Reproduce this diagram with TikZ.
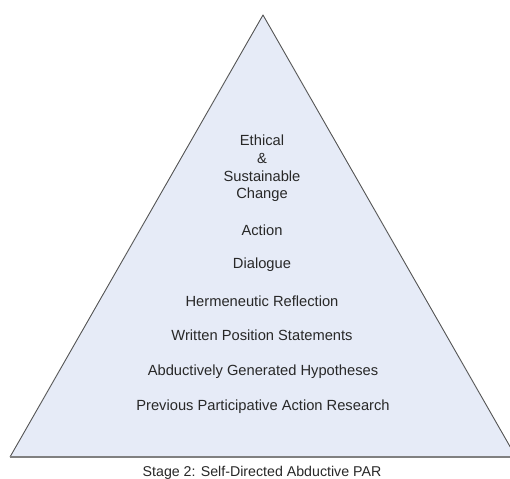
\documentclass[tikz,border=0pt]{standalone}
\usepackage{fontspec}
\setmainfont{Liberation Sans}
\definecolor{pyrfill}{RGB}{230,235,247}
\definecolor{pyredge}{RGB}{85,85,85}
\definecolor{pyrbase}{RGB}{128,128,128}
\definecolor{labelgray}{RGB}{40,40,40}
\begin{document}
\begin{tikzpicture}[x=1pt,y=-1pt,
  level/.style={anchor=base,inner sep=0pt,text=labelgray,
    font=\fontsize{14.7}{17.7}\selectfont},
  caption/.style={anchor=base,inner sep=0pt,text=labelgray,
    font=\fontsize{14.2}{17}\selectfont}]
  \useasboundingbox (0,0) rectangle (510,478);
  \clip (0,0) rectangle (510,478);
  \fill[white] (0,0) rectangle (510,478);
  % pyramid body
  \coordinate (apex) at (263,15);
  \coordinate (bl) at (10,457);
  \coordinate (br) at (516,457);
  \fill[pyrfill] (apex) -- (bl) -- (br) -- cycle;
  \draw[pyredge,line width=0.9pt,line join=round] (bl) -- (apex) -- (br);
  \draw[pyrbase,line width=2pt] (bl) -- (br);
  % stacked levels, top to bottom
  \node[level] (ethical) at (262,145.5) {Ethical};
  \node[level] (amp) at (262,163.5) {\&};
  \node[level] (sustainable) at (262,181.5) {Sustainable};
  \node[level] (change) at (262,198.5) {Change};
  \node[level] (action) at (262,235.5) {Action};
  \node[level] (dialogue) at (262,268.5) {Dialogue};
  \node[level] (reflection) at (262,306.5) {Hermeneutic Reflection};
  \node[level] (written) at (262,340.5) {Written Position Statements};
  \node[level] (hypotheses) at (263,375.5) {Abductively Generated Hypotheses};
  \node[level] (previous) at (263,410.5) {Previous Participative Action Research};
  % caption under the base
  \node[caption] (stage) at (262,476) {Stage 2: Self-Directed Abductive PAR};
\end{tikzpicture}
\end{document}
